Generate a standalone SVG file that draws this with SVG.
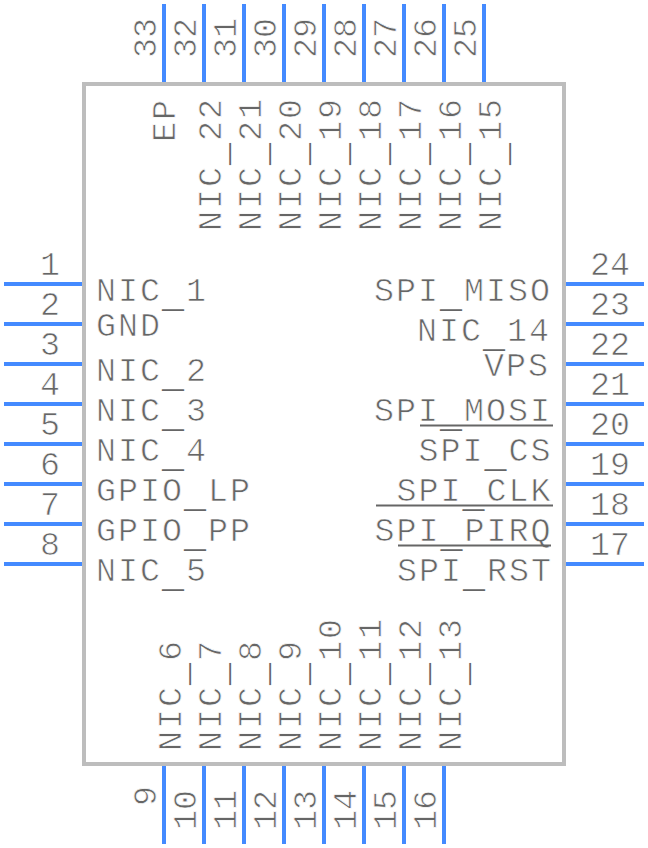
<svg xmlns="http://www.w3.org/2000/svg" width="648" height="848" viewBox="0 0 648 848">
<style>
text{font-family:"Liberation Mono",monospace;font-size:33.33px;fill:#666;stroke:#fff;stroke-width:.7}
.l{letter-spacing:2px}
.u{font-size:36.67px;stroke:none}
.e{text-anchor:end}
.n{text-anchor:middle}
.pin{stroke:#448aff;stroke-width:4;fill:none}
.bar{stroke:#666;stroke-width:2;fill:none}
</style>
<rect width="648" height="848" fill="#fff"/>
<g id="body"><rect x="84" y="84" width="480" height="680" fill="none" stroke="#bdbdbd" stroke-width="4"/></g>
<g id="connectors">
<path class="pin" d="M4 284H82M4 324H82M4 364H82M4 404H82M4 444H82M4 484H82M4 524H82M4 564H82"/>
<path class="pin" d="M566 284H644M566 324H644M566 364H644M566 404H644M566 444H644M566 484H644M566 524H644M566 564H644"/>
<path class="pin" d="M164 4V82M204 4V82M244 4V82M284 4V82M324 4V82M364 4V82M404 4V82M444 4V82M484 4V82"/>
<path class="pin" d="M164 766V844M204 766V844M244 766V844M284 766V844M324 766V844M364 766V844M404 766V844M444 766V844"/>
</g>
<g id="pin-numbers-left">
<text class="n" x="50" y="275">1</text><text class="n" x="50" y="315">2</text><text class="n" x="50" y="355">3</text><text class="n" x="50" y="395">4</text><text class="n" x="50" y="435">5</text><text class="n" x="50" y="475">6</text><text class="n" x="50" y="515">7</text><text class="n" x="50" y="555">8</text>
</g>
<g id="pin-numbers-right">
<text class="n" x="610" y="275">24</text><text class="n" x="610" y="315">23</text><text class="n" x="610" y="355">22</text><text class="n" x="610" y="395">21</text><text class="n" x="610" y="435">20</text><text class="n" x="610" y="475">19</text><text class="n" x="610" y="515">18</text><text class="n" x="610" y="555">17</text>
</g>
<g id="pin-numbers-top">
<text transform="translate(156 58) rotate(-90)">33</text><text transform="translate(196 58) rotate(-90)">32</text><text transform="translate(236 58) rotate(-90)">31</text><text transform="translate(276 58) rotate(-90)">30</text><text transform="translate(316 58) rotate(-90)">29</text><text transform="translate(356 58) rotate(-90)">28</text><text transform="translate(396 58) rotate(-90)">27</text><text transform="translate(436 58) rotate(-90)">26</text><text transform="translate(476 58) rotate(-90)">25</text>
</g>
<g id="pin-numbers-bottom">
<text class="e" transform="translate(156 786) rotate(-90)">9</text><text transform="translate(196 830) rotate(-90)">10</text><text transform="translate(236 830) rotate(-90)">11</text><text transform="translate(276 830) rotate(-90)">12</text><text transform="translate(316 830) rotate(-90)">13</text><text transform="translate(356 830) rotate(-90)">14</text><text transform="translate(396 830) rotate(-90)">15</text><text transform="translate(436 830) rotate(-90)">16</text>
</g>
<g id="labels-left">
<text class="l" x="96" y="301">NIC<tspan class="u" dy="6">_</tspan><tspan dy="-6">1</tspan></text><text class="l" x="96" y="336">GND</text><text class="l" x="96" y="381">NIC<tspan class="u" dy="6">_</tspan><tspan dy="-6">2</tspan></text><text class="l" x="96" y="421">NIC<tspan class="u" dy="6">_</tspan><tspan dy="-6">3</tspan></text><text class="l" x="96" y="461">NIC<tspan class="u" dy="6">_</tspan><tspan dy="-6">4</tspan></text><text class="l" x="96" y="501">GPIO<tspan class="u" dy="6">_</tspan><tspan dy="-6">LP</tspan></text><text class="l" x="96" y="541">GPIO<tspan class="u" dy="6">_</tspan><tspan dy="-6">PP</tspan></text><text class="l" x="96" y="581">NIC<tspan class="u" dy="6">_</tspan><tspan dy="-6">5</tspan></text>
</g>
<g id="labels-right">
<text class="l e" x="552" y="301">SPI<tspan class="u" dy="6">_</tspan><tspan dy="-6">MISO</tspan></text><text class="l e" x="551" y="341">NIC<tspan class="u" dy="6">_</tspan><tspan dy="-6">14</tspan></text><text class="l e" x="550" y="376">VPS</text><text class="l e" x="552" y="421">SPI<tspan class="u" dy="6">_</tspan><tspan dy="-6">MOSI</tspan></text><text class="l e" x="552.500" y="461">SPI<tspan class="u" dy="6">_</tspan><tspan dy="-6">CS</tspan></text><text class="l e" x="552.500" y="501">SPI<tspan class="u" dy="6">_</tspan><tspan dy="-6">CLK</tspan></text><text class="l e" x="552.500" y="541">SPI<tspan class="u" dy="6">_</tspan><tspan dy="-6">PIRQ</tspan></text><text class="l e" x="553" y="581">SPI<tspan class="u" dy="6">_</tspan><tspan dy="-6">RST</tspan></text>
<path class="bar" d="M420 425.500H553M376 505.500H553M398 545.500H551"/>
</g>
<g id="labels-top">
<text class="l" transform="translate(175 142) rotate(-90)">EP</text>
<text class="l" transform="translate(221 231) rotate(-90)">NIC<tspan class="u" dy="6">_</tspan><tspan dy="-6">22</tspan></text><text class="l" transform="translate(261 231) rotate(-90)">NIC<tspan class="u" dy="6">_</tspan><tspan dy="-6">21</tspan></text><text class="l" transform="translate(301 231) rotate(-90)">NIC<tspan class="u" dy="6">_</tspan><tspan dy="-6">20</tspan></text><text class="l" transform="translate(341 231) rotate(-90)">NIC<tspan class="u" dy="6">_</tspan><tspan dy="-6">19</tspan></text><text class="l" transform="translate(381 231) rotate(-90)">NIC<tspan class="u" dy="6">_</tspan><tspan dy="-6">18</tspan></text><text class="l" transform="translate(421 231) rotate(-90)">NIC<tspan class="u" dy="6">_</tspan><tspan dy="-6">17</tspan></text><text class="l" transform="translate(461 231) rotate(-90)">NIC<tspan class="u" dy="6">_</tspan><tspan dy="-6">16</tspan></text><text class="l" transform="translate(501 231) rotate(-90)">NIC<tspan class="u" dy="6">_</tspan><tspan dy="-6">15</tspan></text>
</g>
<g id="labels-bottom">
<text class="l" transform="translate(181 751) rotate(-90)">NIC<tspan class="u" dy="6">_</tspan><tspan dy="-6">6</tspan></text><text class="l" transform="translate(221 751) rotate(-90)">NIC<tspan class="u" dy="6">_</tspan><tspan dy="-6">7</tspan></text><text class="l" transform="translate(261 751) rotate(-90)">NIC<tspan class="u" dy="6">_</tspan><tspan dy="-6">8</tspan></text><text class="l" transform="translate(301 751) rotate(-90)">NIC<tspan class="u" dy="6">_</tspan><tspan dy="-6">9</tspan></text><text class="l" transform="translate(341 751) rotate(-90)">NIC<tspan class="u" dy="6">_</tspan><tspan dy="-6">10</tspan></text><text class="l" transform="translate(381 751) rotate(-90)">NIC<tspan class="u" dy="6">_</tspan><tspan dy="-6">11</tspan></text><text class="l" transform="translate(421 751) rotate(-90)">NIC<tspan class="u" dy="6">_</tspan><tspan dy="-6">12</tspan></text><text class="l" transform="translate(461 751) rotate(-90)">NIC<tspan class="u" dy="6">_</tspan><tspan dy="-6">13</tspan></text>
</g>
</svg>
